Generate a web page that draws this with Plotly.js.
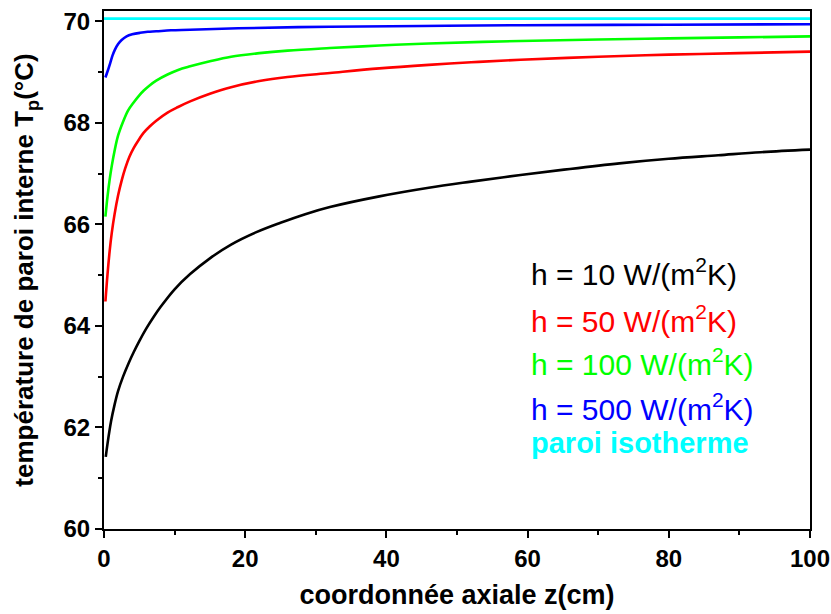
<!DOCTYPE html>
<html>
<head>
<meta charset="utf-8">
<script src="https://cdn.plot.ly/plotly-3.0.1.min.js"></script>
<style>html,body{margin:0;padding:0;background:#fff}</style>
</head>
<body>
<div id="chart" style="width:831px;height:614px"></div>
<script>
// h = 10 W/(m2K)
var z_h10 = [0.25, 0.5, 1, 1.5, 2, 2.7, 3.5, 4.2, 5, 6, 7, 8, 10, 12.2, 15, 18, 21.5, 25, 28.5, 32, 39, 46, 52, 59, 66, 73, 80, 87, 93, 100];
var T_h10 = [61.42, 61.68, 62.12, 62.45, 62.72, 63.0, 63.27, 63.48, 63.7, 63.95, 64.17, 64.37, 64.72, 65.02, 65.33, 65.6, 65.84, 66.03, 66.2, 66.34, 66.55, 66.72, 66.84, 66.97, 67.09, 67.2, 67.29, 67.36, 67.42, 67.47];
// h = 50 W/(m2K)
var z_h50 = [0.2, 0.5, 0.8, 1.1, 1.5, 2, 2.5, 3, 3.6, 4.2, 5, 5.6, 6.5, 7.4, 9, 10.5, 12.2, 15, 18, 22, 26, 32, 39, 46, 52, 59, 70, 80, 90, 100];
var T_h50 = [64.48, 65.02, 65.47, 65.83, 66.2, 66.57, 66.86, 67.1, 67.33, 67.5, 67.68, 67.8, 67.93, 68.04, 68.2, 68.31, 68.42, 68.57, 68.7, 68.82, 68.9, 68.98, 69.07, 69.14, 69.19, 69.24, 69.3, 69.34, 69.37, 69.4];
// h = 100 W/(m2K)
var z_h100 = [0.2, 0.5, 0.8, 1.1, 1.5, 2, 2.7, 3.4, 4.2, 5, 5.6, 6.5, 7.4, 9, 10.5, 12.2, 15, 18, 22, 26, 32, 39, 46, 59, 70, 80, 90, 100];
var T_h100 = [66.15, 66.55, 66.88, 67.15, 67.45, 67.75, 68.02, 68.24, 68.4, 68.54, 68.63, 68.74, 68.83, 68.95, 69.04, 69.11, 69.21, 69.3, 69.37, 69.42, 69.47, 69.52, 69.56, 69.61, 69.64, 69.66, 69.68, 69.7];
// h = 500 W/(m2K)
var z_h500 = [0.2, 0.4, 0.6, 0.85, 1.2, 1.55, 2, 2.5, 3.2, 4, 5.1, 6.2, 7.4, 9.5, 12.2, 19, 32, 45, 59, 80, 100];
var T_h500 = [68.89, 68.97, 69.05, 69.16, 69.32, 69.44, 69.55, 69.63, 69.7, 69.74, 69.77, 69.79, 69.8, 69.82, 69.83, 69.86, 69.89, 69.905, 69.92, 69.93, 69.94];
// paroi isotherme
var z_iso = [0, 100];
var T_iso = [70.05, 70.05];

var seriesNames = ["h = 10 W/(m<sup>2</sup>K)", "h = 50 W/(m<sup>2</sup>K)", "h = 100 W/(m<sup>2</sup>K)", "h = 500 W/(m<sup>2</sup>K)", "<b>paroi isotherme</b>"];
var seriesColors = ["#000000", "#ff0000", "#00ff00", "#0000ff", "#00ffff"];
var labelY = [65.07, 64.14, 63.28, 62.41, 61.70];

var xs = [z_h10, z_h50, z_h100, z_h500, z_iso];
var ys = [T_h10, T_h50, T_h100, T_h500, T_iso];

var FONT = "Liberation Sans, Arial, sans-serif";

var traces = xs.map(function (x, i) {
  return {
    x: x, y: ys[i], type: "scatter", mode: "lines",
    line: {color: seriesColors[i], width: 2.6, shape: i < 4 ? "spline" : "linear", smoothing: 1},
    showlegend: false, hoverinfo: "skip"
  };
});

var annotations = seriesNames.map(function (t, i) {
  return {
    text: t, x: 60.2, y: labelY[i], xref: "x", yref: "y",
    xanchor: "left", yanchor: "middle", showarrow: false,
    font: {family: FONT, size: i < 4 ? 30 : 29, color: seriesColors[i]}
  };
});

var layout = {
  width: 831, height: 614,
  margin: {l: 104, r: 21, t: 11, b: 85},
  paper_bgcolor: "#ffffff", plot_bgcolor: "#ffffff",
  font: {family: FONT, color: "#000"},
  showlegend: false,
  xaxis: {
    range: [0, 100], tick0: 0, dtick: 20,
    ticks: "outside", ticklen: 7, tickwidth: 2, tickcolor: "#000",
    showline: true, linewidth: 2, linecolor: "#000", mirror: true,
    showgrid: false, zeroline: false,
    minor: {dtick: 10, ticks: "outside", ticklen: 4, tickwidth: 2, tickcolor: "#000", showgrid: false},
    tickfont: {family: FONT, size: 24, weight: "bold", color: "#000"},
    title: {text: "coordonnée axiale z(cm)", font: {family: FONT, size: 27, weight: "bold", color: "#000"}, standoff: 14}
  },
  yaxis: {
    range: [60, 70.2], tick0: 60, dtick: 2,
    ticks: "outside", ticklen: 7, tickwidth: 2, tickcolor: "#000",
    showline: true, linewidth: 2, linecolor: "#000", mirror: true,
    showgrid: false, zeroline: false,
    minor: {dtick: 1, ticks: "outside", ticklen: 4, tickwidth: 2, tickcolor: "#000", showgrid: false},
    tickfont: {family: FONT, size: 24, weight: "bold", color: "#000"},
    title: {text: "température de paroi interne T<sub>p</sub>(°C)", font: {family: FONT, size: 26, weight: "bold", color: "#000"}, standoff: 22}
  },
  annotations: annotations
};

Plotly.newPlot("chart", traces, layout, {staticPlot: true, displayModeBar: false});
</script>
</body>
</html>
